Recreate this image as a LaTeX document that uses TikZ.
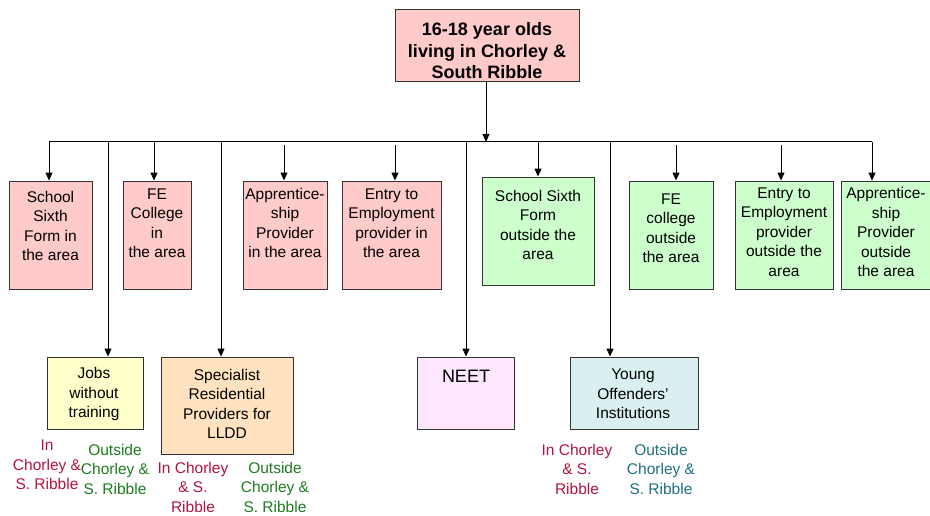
\documentclass[tikz,border=0pt]{standalone}
\usepackage{fontspec}
\setmainfont{Liberation Sans}
\usetikzlibrary{arrows.meta}

\definecolor{boxline}{HTML}{333333}
\definecolor{pinkbox}{HTML}{FFCACA}
\definecolor{greenbox}{HTML}{CCFFCC}
\definecolor{yellowbox}{HTML}{FFFFCC}
\definecolor{peachbox}{HTML}{FFE2C0}
\definecolor{neetbox}{HTML}{FFE6FF}
\definecolor{tealbox}{HTML}{DAEFF0}
\definecolor{incol}{HTML}{B2133D}
\definecolor{outgreen}{HTML}{1E7B1E}
\definecolor{outteal}{HTML}{1F6F7F}

\tikzset{
  box/.style={draw=boxline, line width=0.9pt, inner sep=0pt},
  txt/.style={align=center, inner sep=0pt, font=\fontsize{15.5}{19.5}\selectfont},
  drop/.style={-{Triangle[length=8pt,width=7pt]}, line width=1pt},
}

\begin{document}
\begin{tikzpicture}[x=1pt,y=-1pt]
  \useasboundingbox (0,0) rectangle (930,516);

  % top box
  \node[box,fill=pinkbox,minimum width=184pt,minimum height=72pt] (top) at (487,45) {};
  \node[txt,font=\fontsize{18}{21.5}\selectfont\bfseries] (top-t) at (487,51) {16-18 year olds\\living in Chorley \&\\South Ribble};

  % first row
  \node[box,fill=pinkbox,minimum width=83pt,minimum height=108pt] (sixin) at (50.5,235) {};
  \node[txt] (sixin-t) at (50.5,226) {School\\Sixth\\Form in\\the area};
  \node[box,fill=pinkbox,minimum width=68pt,minimum height=108pt] (fein) at (157,235) {};
  \node[txt] (fein-t) at (157,223) {FE\\College\\in\\the area};
  \node[box,fill=pinkbox,minimum width=84pt,minimum height=108pt] (appin) at (285,235) {};
  \node[txt] (appin-t) at (285,223) {Apprentice-\\ship\\Provider\\in the area};
  \node[box,fill=pinkbox,minimum width=99pt,minimum height=108pt] (e2ein) at (391.5,235) {};
  \node[txt] (e2ein-t) at (391.5,223) {Entry to\\Employment\\provider in\\the area};
  \node[box,fill=greenbox,minimum width=112pt,minimum height=108pt] (sixout) at (538,231) {};
  \node[txt] (sixout-t) at (538,225) {School Sixth\\Form\\outside the\\area};
  \node[box,fill=greenbox,minimum width=84pt,minimum height=108pt] (feout) at (671,235) {};
  \node[txt] (feout-t) at (671,228) {FE\\college\\outside\\the area};
  \node[box,fill=greenbox,minimum width=98pt,minimum height=108pt] (e2eout) at (784,235) {};
  \node[txt] (e2eout-t) at (784,232) {Entry to\\Employment\\provider\\outside the\\area};
  \node[box,fill=greenbox,minimum width=92pt,minimum height=108pt] (appout) at (887,235) {};
  \node[txt] (appout-t) at (886,232) {Apprentice-\\ship\\Provider\\outside\\the area};

  % second row
  \node[box,fill=yellowbox,minimum width=96pt,minimum height=72pt] (jobs) at (95,393) {};
  \node[txt] (jobs-t) at (94,394) {Jobs\\without\\training};
  \node[box,fill=peachbox,minimum width=132pt,minimum height=97pt] (spec) at (227,405.5) {};
  \node[txt] (spec-t) at (227,404) {Specialist\\Residential\\Providers for\\LLDD};
  \node[box,fill=neetbox,minimum width=97pt,minimum height=72pt] (neet) at (465.5,393) {};
  \node[txt,font=\fontsize{18}{21.5}\selectfont] (neet-t) at (466,376) {NEET};
  \node[box,fill=tealbox,minimum width=128pt,minimum height=72pt] (yoi) at (634,393) {};
  \node[txt] (yoi-t) at (633,394) {Young\\Offenders'\\Institutions};

  % where they are
  \node[txt,text=incol] (jobs-in) at (47,465) {In\\Chorley \&\\S. Ribble};
  \node[txt,text=outgreen] (jobs-out) at (115,469) {Outside\\Chorley \&\\S. Ribble};
  \node[txt,text=incol] (spec-in) at (193,487) {In Chorley\\\& S.\\Ribble};
  \node[txt,text=outgreen] (spec-out) at (275,487) {Outside\\Chorley \&\\S. Ribble};
  \node[txt,text=incol] (yoi-in) at (577,469) {In Chorley\\\& S.\\Ribble};
  \node[txt,text=outteal] (yoi-out) at (661,469) {Outside\\Chorley \&\\S. Ribble};

  % bar
  \coordinate (bar) at (486,142);
  \coordinate (bl) at (49,142);
  \coordinate (br) at (872,142);
  \draw[drop] (top.south -| bar) -- (bar);
  \draw[line width=1pt] (bl) -- (br);

  \coordinate (d1) at (154,142);
  \coordinate (d2) at (284,145);
  \coordinate (d3) at (395,145);
  \coordinate (d4) at (538,142);
  \coordinate (d5) at (676,145);
  \coordinate (d6) at (781,145);
  \coordinate (j) at (108,142);
  \coordinate (s) at (221,142);
  \coordinate (n) at (466,142);
  \coordinate (y) at (610,142);

  \draw[drop] (bl) -- (bl |- sixin.north);
  \draw[drop] (d1) -- (d1 |- fein.north);
  \draw[drop] (d2) -- (d2 |- appin.north);
  \draw[drop] (d3) -- (d3 |- e2ein.north);
  \draw[drop] (d4) -- (sixout.north);
  \draw[drop] (d5) -- (d5 |- feout.north);
  \draw[drop] (d6) -- (d6 |- e2eout.north);
  \draw[drop] (br) -- (br |- appout.north);

  \draw[drop] (j) -- (j |- jobs.north);
  \draw[drop] (s) -- (s |- spec.north);
  \draw[drop] (n) -- (n |- neet.north);
  \draw[drop] (y) -- (y |- yoi.north);
\end{tikzpicture}
\end{document}
